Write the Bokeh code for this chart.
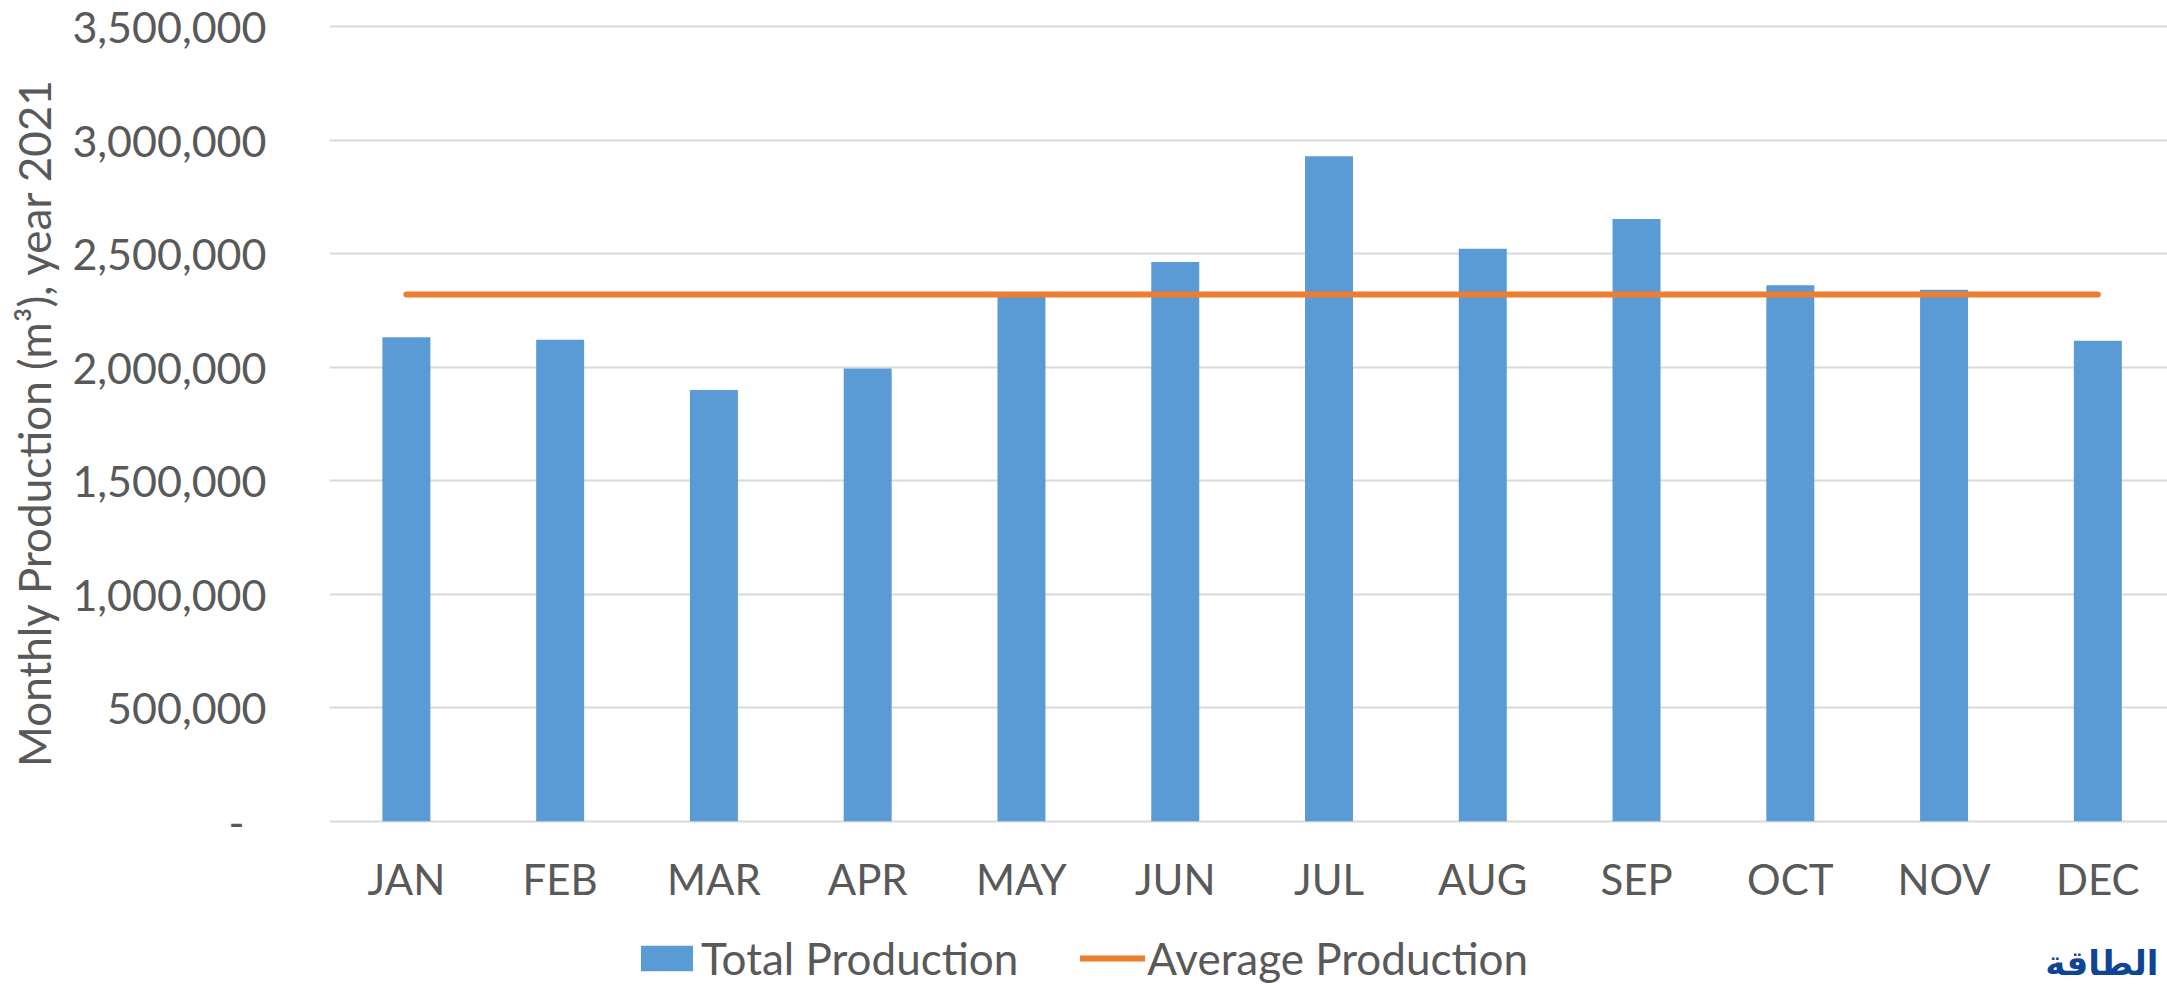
from bokeh.plotting import figure
from bokeh.layouts import column
from bokeh.models import (Range1d, FixedTicker, NumeralTickFormatter, Legend,
                          LegendItem, Label)
from bokeh.embed import file_html
from bokeh.resources import INLINE

# ---- data ----
months = ["JAN", "FEB", "MAR", "APR", "MAY", "JUN",
          "JUL", "AUG", "SEP", "OCT", "NOV", "DEC"]
total_production = [2131000, 2120000, 1899000, 1994000, 2330000, 2463000,
                    2929000, 2521000, 2652000, 2360000, 2341000, 2116000]
average_production = [2320000, 2320000, 2320000, 2320000, 2320000, 2320000,
                      2320000, 2320000, 2320000, 2320000, 2320000, 2320000]
y_ticks = [0, 500000, 1000000, 1500000, 2000000, 2500000, 3000000, 3500000]
y_label = "Monthly Production (m\u00b3), year 2021"
series_names = ["Total Production", "Average Production"]
logo_text = "\u0627\u0644\u0637\u0627\u0642\u0629"

idx = list(range(len(months)))

FONT = "Lato"
TXT = "#595959"
BLUE = "#5B9BD5"
ORANGE = "#ED7D31"

W = 2167
H_MAIN = 915
H_LEG = 70
FRAME_LEFT = 329

p = figure(width=W, height=H_MAIN, output_backend="svg", toolbar_location=None,
           x_range=Range1d(-0.5, 11.453), y_range=Range1d(-10130, 3526420),
           min_border_left=FRAME_LEFT, min_border_right=0, min_border_top=20,
           min_border_bottom=H_MAIN - 823)
p.outline_line_color = None

bars = p.vbar(x=idx, top=total_production, bottom=0, width=0.312,
              fill_color=BLUE, line_color=None)
avg = p.line(idx, average_production, line_color=ORANGE, line_width=6,
             line_cap="round")

p.xgrid.grid_line_color = None
p.ygrid.grid_line_color = "#D9D9D9"
p.ygrid.grid_line_width = 2

ya = p.yaxis[0]
ya.ticker = FixedTicker(ticks=y_ticks)
ya.formatter = NumeralTickFormatter(format="0,0")
ya.major_label_overrides = {0: "-\u00a0\u00a0"}
ya.axis_line_color = None
ya.major_tick_line_color = None
ya.minor_tick_line_color = None
ya.major_label_standoff = 57
ya.major_label_text_font = FONT
ya.major_label_text_font_size = "43px"
ya.major_label_text_color = TXT
ya.axis_label = y_label
ya.axis_label_text_font = FONT
ya.axis_label_text_font_size = "44px"
ya.axis_label_text_font_style = "normal"
ya.axis_label_text_color = TXT
ya.axis_label_standoff = 9

xa = p.xaxis[0]
xa.ticker = FixedTicker(ticks=idx)
xa.major_label_overrides = {i: m for i, m in zip(idx, months)}
xa.axis_line_color = None
xa.major_tick_line_color = None
xa.minor_tick_line_color = None
xa.major_label_standoff = 24
xa.major_label_text_font = FONT
xa.major_label_text_font_size = "42px"
xa.major_label_text_color = TXT

# ---- legend strip under the chart (its frame is aligned with the chart's) ----
q = figure(width=W, height=H_LEG, output_backend="svg", toolbar_location=None,
           x_range=Range1d(0, 1), y_range=Range1d(0, 1),
           x_axis_type=None, y_axis_type=None,
           min_border_left=FRAME_LEFT, min_border_right=0, min_border_top=0,
           min_border_bottom=0)
q.outline_line_color = None
q.xgrid.grid_line_color = None
q.ygrid.grid_line_color = None
# key renderers (kept outside the visible range; only their legend keys show)
key_bar = q.vbar(x=[-5], top=[-5], bottom=[-6], width=0.1,
                 fill_color=BLUE, line_color=None)
key_line = q.line(x=[-5, -4], y=[-5, -5], line_color=ORANGE, line_width=6,
                  line_cap="round")

legend = Legend(items=[LegendItem(label=series_names[0], renderers=[key_bar]),
                       LegendItem(label=series_names[1], renderers=[key_line])],
                orientation="horizontal", location=(634 - FRAME_LEFT, 1),
                glyph_width=65, glyph_height=32, label_standoff=2,
                label_text_font=FONT, label_text_font_size="44px",
                label_text_color=TXT, spacing=62, padding=0, margin=0,
                border_line_color=None, background_fill_alpha=0)
q.add_layout(legend, "center")

logo = Label(x=2158 - FRAME_LEFT, y=3, x_units="screen", y_units="screen",
             text=logo_text, text_font="DejaVu Sans", text_font_style="bold",
             text_font_size="34px", text_color="#0E4595",
             text_align="right", text_baseline="bottom")
q.add_layout(logo)

open("out.html", "w").write(file_html(column(p, q, spacing=0), INLINE))
